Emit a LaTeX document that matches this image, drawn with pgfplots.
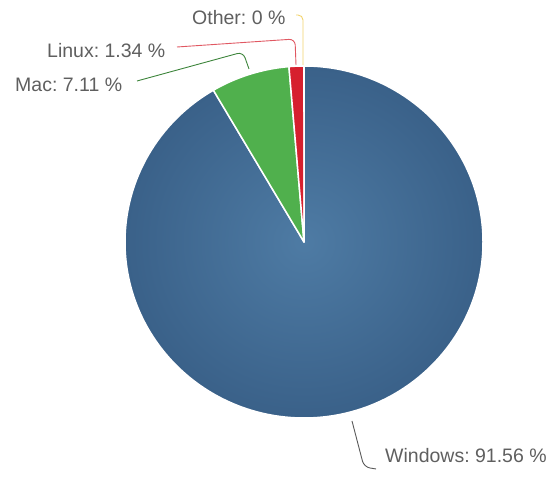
\documentclass[border=0pt]{standalone}
\usepackage{pgfplots}
\usepackage{pgfplotstable}
\pgfplotsset{compat=1.18}
\usepackage{fontspec}
\setmainfont{Liberation Sans}
\frenchspacing
\definecolor{winlight}{HTML}{4E7BA4}
\definecolor{windark}{HTML}{3A6189}
\definecolor{macgreen}{HTML}{50B04D}
\definecolor{linuxred}{HTML}{D6202E}
\definecolor{otheryellow}{HTML}{F2D36B}
\definecolor{labelgray}{HTML}{5F5F5F}
\tikzset{
  winstyle/.style={shade, shading=radial, inner color=winlight, outer color=windark},
  macstyle/.style={fill=macgreen},
  linuxstyle/.style={fill=linuxred},
  otherstyle/.style={fill=otheryellow},
}
\pgfplotstableread{
label   value  style
Windows 91.56  winstyle
Mac     7.11   macstyle
Linux   1.34   linuxstyle
Other   0      otherstyle
}\datatable
\begin{document}
\begin{tikzpicture}
\begin{axis}[scale only axis, width=554pt, height=486pt,
  xmin=0, xmax=554, ymin=0, ymax=486, hide axis, clip=false]
\path (axis cs:0,0) rectangle (axis cs:554,486);
\def\cum{0}
\pgfplotsforeachungrouped \i in {0,...,3}{%
  \pgfplotstablegetelem{\i}{value}\of\datatable
  \let\v\pgfplotsretval
  \pgfplotstablegetelem{\i}{style}\of\datatable
  \let\st\pgfplotsretval
  \pgfmathsetmacro\a{90-3.6*\cum/1.0001}%
  \pgfmathsetmacro\b{90-3.6*(\cum+\v)/1.0001}%
  \edef\cmd{\noexpand\path[\st, draw=white, line width=1.5pt, line join=round]
    (axis cs:304,244) -- ++(\a:179pt and 176pt)
    arc[start angle=\a, end angle=\b, x radius=179pt, y radius=176pt] -- cycle;}%
  \cmd
  \pgfmathsetmacro\cum{\cum+\v}%
}
% leader lines
\draw[otheryellow, line width=0.9pt, rounded corners=5pt] (axis cs:296,471) -- (axis cs:303,471) -- (axis cs:303,421);
\draw[linuxred!75!white, line width=0.9pt, rounded corners=6pt] (axis cs:177,439) -- (axis cs:295,447) -- (axis cs:296,421);
\draw[macgreen!75!black, line width=0.9pt, rounded corners=6pt] (axis cs:137,405) -- (axis cs:243,434) -- (axis cs:249,417);
\draw[black!65, line width=0.9pt, rounded corners=6pt] (axis cs:352,65) -- (axis cs:364,19) -- (axis cs:376,17);
% labels
\begin{scope}[every node/.style={anchor=base west, inner sep=0pt, text=labelgray, font=\fontsize{19.5}{23}\selectfont}]
\node at (axis cs:192,461) {Other: 0 \%};
\node at (axis cs:47,428) {Linux: 1.34 \%};
\node at (axis cs:15,394) {Mac: 7.11 \%};
\node at (axis cs:385,23) {Windows: 91.56 \%};
\end{scope}
\end{axis}
\end{tikzpicture}
\end{document}
